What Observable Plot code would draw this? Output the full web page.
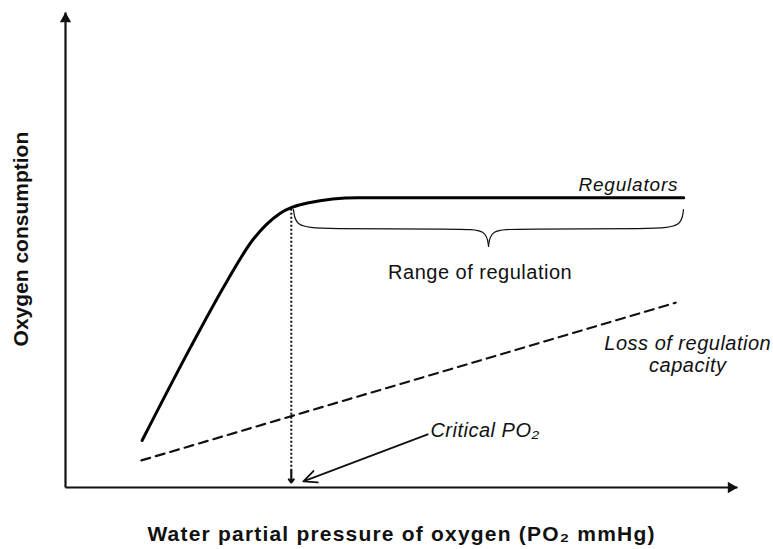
<!DOCTYPE html>
<html>
<head>
<meta charset="utf-8">
<script src="https://cdn.jsdelivr.net/npm/d3@7"></script>
<script src="https://cdn.jsdelivr.net/npm/@observablehq/plot@0.6"></script>
<style>
  html, body { margin: 0; padding: 0; background: #fff; }
  #chart svg { display: block; }
</style>
</head>
<body>
<div id="chart"></div>
<script>
// Regulator curve (oxygen consumption vs water PO2, arbitrary units 0–100)
const regPO2 = [11.4, 18.6, 24.1, 27.8, 31.9, 36.0, 43.5, 92.0];
const regO2  = [9.9, 29.5, 43.6, 52.0, 57.7, 59.9, 61.0, 61.0];

// Loss of regulation capacity (dashed)
const lossPO2 = [11.3, 90.8];
const lossO2  = [5.7, 38.9];

// Critical PO2 (dotted drop line)
const critPO2 = 33.6;
const critTop = 58.7;
const critBottom = 1.05;

// Critical PO2 label arrow
const critArrowFrom = [53.9, 11.2];
const critArrowTo   = [35.4, 1.3];

// Range of regulation brace (control points, two halves)
const braceHalf  = ["L","L","L","L","L","L","R","R","R","R","R","R"];
const bracePO2   = [33.93, 34.23, 37.95, 58.78, 62.65, 62.95, 62.95, 63.24, 67.11, 87.95, 91.67, 91.96];
const braceO2    = [58.53, 54.95, 54.42, 54.42, 54.32, 50.74, 50.74, 54.32, 54.42, 54.42, 54.95, 58.53];

// Labels
const labelText  = ["Regulators", "Range of regulation", "Loss of regulation", "capacity", "Critical PO\u2082"];
const labelPO2   = [91.2, 61.7, 92.6, 92.6, 54.3];
const labelO2    = [63.8, 45.3, 30.4, 25.6, 11.9];
const labelItal  = [true, false, true, true, true];
const labelAnchor = ["end", "middle", "middle", "middle", "start"];

const xTitle = "Water partial pressure of oxygen (PO\u2082 mmHg)";
const yTitle = "Oxygen consumption";

const font = "'Liberation Sans', Arial, Helvetica, sans-serif";

const reg = regPO2.map((x, i) => ({x, y: regO2[i]}));
const loss = lossPO2.map((x, i) => ({x, y: lossO2[i]}));
const brace = bracePO2.map((x, i) => ({x, y: braceO2[i], z: braceHalf[i]}));
const labels = labelText.map((t, i) => ({t, x: labelPO2[i], y: labelO2[i], it: labelItal[i], a: labelAnchor[i]}));

const textMarks = labels.map(d => Plot.text([d], {
  x: "x", y: "y", text: "t",
  textAnchor: d.a,
  fontStyle: d.it ? "italic" : "normal",
  fontSize: d.t === "Regulators" ? 19 : 20,
  fill: "#111"
}));

const svg = Plot.plot({
  width: 773,
  height: 549,
  marginLeft: 65,
  marginRight: 36,
  marginTop: 12,
  marginBottom: 62,
  style: {fontFamily: font, background: "#fff"},
  x: {domain: [0, 100], axis: null},
  y: {domain: [0, 100], axis: null},
  marks: [
    // axes
    Plot.link([{x1: 0, y1: 0, x2: 100, y2: 0}, {x1: 0, y1: 0, x2: 0, y2: 100}],
      {x1: "x1", y1: "y1", x2: "x2", y2: "y2", stroke: "#111", strokeWidth: 2.2}),
    Plot.dot([{x: 100, y: 0}], {x: "x", y: "y", symbol: "triangle", r: 4.2, rotate: 90, fill: "#111", stroke: "none", dx: -6.4}),
    Plot.dot([{x: 0, y: 100}], {x: "x", y: "y", symbol: "triangle", r: 4.2, rotate: 0, fill: "#111", stroke: "none", dy: 6.4}),
    // dashed loss line
    Plot.line(loss, {x: "x", y: "y", stroke: "#111", strokeWidth: 2.2, strokeDasharray: "9,6"}),
    // critical dotted line
    Plot.link([{x: critPO2, y1: critTop, y2: critBottom + 2}], {x1: "x", x2: "x", y1: "y1", y2: "y2", stroke: "#111", strokeWidth: 2, strokeDasharray: "2,2"}),
    Plot.arrow([{x: critPO2, y1: critBottom + 2.5, y2: critBottom}], {x1: "x", x2: "x", y1: "y1", y2: "y2", stroke: "#111", strokeWidth: 2.2, headLength: 13, headAngle: 75}),
    // critical label arrow
    Plot.arrow([{x1: critArrowFrom[0], y1: critArrowFrom[1], x2: critArrowTo[0], y2: critArrowTo[1]}],
      {x1: "x1", y1: "y1", x2: "x2", y2: "y2", stroke: "#111", strokeWidth: 1.8, headLength: 12, headAngle: 50}),
    // brace
    Plot.line(brace, {x: "x", y: "y", z: "z", curve: "basis", stroke: "#111", strokeWidth: 1.2}),
    // regulator curve
    Plot.line(reg, {x: "x", y: "y", curve: "monotone-x", stroke: "#000", strokeWidth: 3}),
    ...textMarks,
    // axis titles
    Plot.text([xTitle], {x: 50.0, y: -9.75, text: d => d, fontWeight: "bold", fontSize: 21, fill: "#111"}),
    Plot.text([yTitle], {x: -6.55, y: 52.3, text: d => d, fontWeight: "bold", fontSize: 21, rotate: -90, fill: "#111"})
  ]
});

d3.select(svg).selectAll("text").each(function() {
  const t = this.textContent;
  const s = d3.select(this);
  if (t === xTitle) s.style("letter-spacing", "1.2px");
  else if (t === "Regulators") s.style("letter-spacing", "0.8px");
  else if (t !== yTitle) s.style("letter-spacing", "0.5px");
});

document.getElementById("chart").appendChild(svg);
</script>
</body>
</html>
